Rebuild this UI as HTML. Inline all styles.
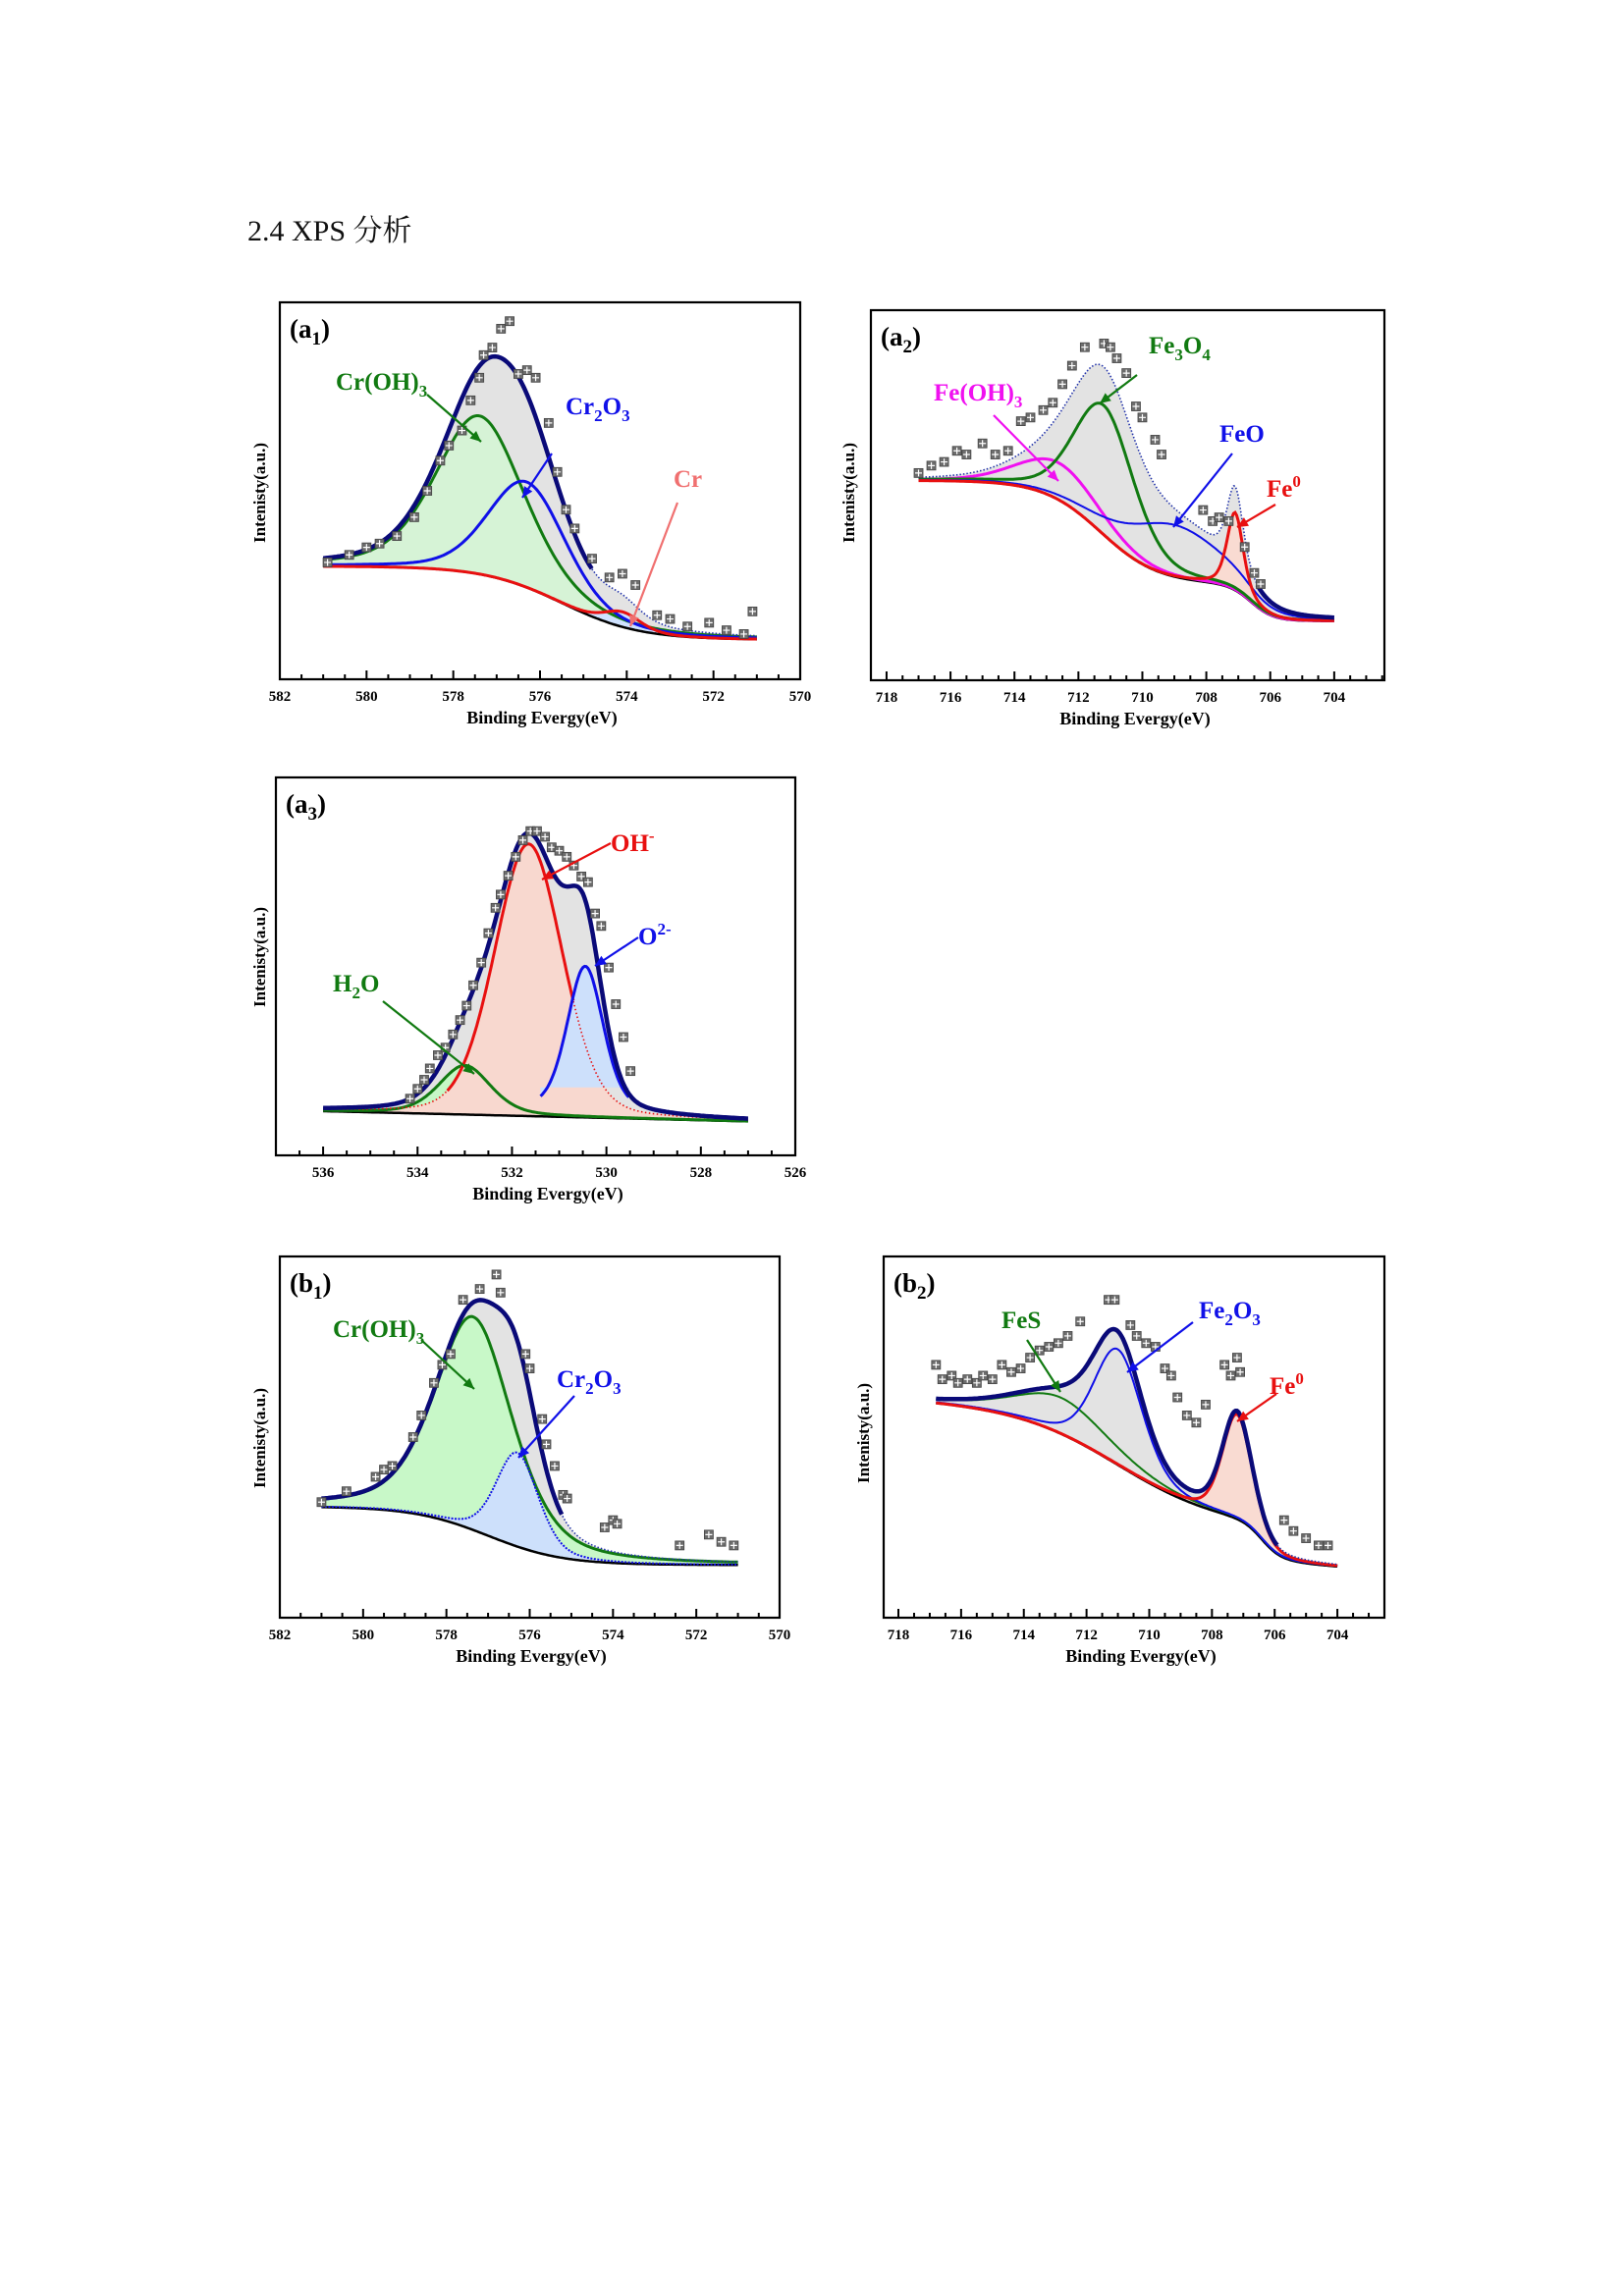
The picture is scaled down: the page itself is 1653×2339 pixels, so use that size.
<!DOCTYPE html>
<html>
<head>
<meta charset="utf-8">
<style>
html,body{margin:0;padding:0;background:#fff;}
svg{display:block;}
text{font-family:"Liberation Serif","Noto Serif CJK SC",serif;}
</style>
</head>
<body>
<svg id="root" width="1653" height="2339" viewBox="0 0 1653 2339" xmlns="http://www.w3.org/2000/svg">
<rect x="0" y="0" width="1653" height="2339" fill="#fff"/>
<text x="252" y="245" font-size="30" fill="#111" style="font-family:'Liberation Serif','Noto Serif CJK SC',serif">2.4 XPS 分析</text>
</svg>
<script>
// ---------- DATA: panel a1 (Cr 2p) ----------
const a1Ticks = [582,580,578,576,574,572,570];
const a1Names = ['Cr(OH)3','Cr2O3','Cr'];
const a1Center = [577.4,576.3,574.1];
const a1Height = [42,28,4];
const a1Fwhm = [2.4,2.1,1.0];
const a1Eta = [0.4,0.3,0.3];
const a1BgLow = 10.5;
const a1BgStepH = [19.5];
const a1BgStepC = [575.5];
const a1BgStepW = [0.9];
const a1BgSlope = 0;
const a1ScatterX = [580.9,580.4,580.0,579.7,579.3,578.9,578.6,578.3,578.1,577.8,577.6,577.4,577.3,577.1,576.9,576.7,576.5,576.3,576.1,575.8,575.6,575.4,575.2,574.8,574.4,574.1,573.8,573.3,573.0,572.6,572.1,571.7,571.3,571.1];
const a1ScatterY = [31,33,35,36,38,43,50,58,62,66,74,80,86,88,93,95,81,82,80,68,55,45,40,32,27,28,25,17,16,14,15,13,12,18];

// ---------- DATA: panel a2 (Fe 2p) ----------
const a2Ticks = [718,716,714,712,710,708,706,704];
const a2Names = ['Fe(OH)3','Fe3O4','FeO','Fe0'];
const a2Center = [712.6,711.2,709.0,707.1];
const a2Height = [10,35,14,21];
const a2Fwhm = [3.0,2.2,3.5,0.6];
const a2Eta = [0.3,0.3,0.3,0.5];
const a2BgLow = 16;
const a2BgStepH = [10,28];
const a2BgStepC = [706.6,711.3];
const a2BgStepW = [0.35,0.9];
const a2BgSlope = 0;
const a2ScatterX = [717.0,716.6,716.2,715.8,715.5,715.0,714.6,714.2,713.8,713.5,713.1,712.8,712.5,712.2,711.8,711.2,711.0,710.8,710.5,710.2,710.0,709.6,709.4,708.1,707.8,707.6,707.3,706.8,706.5,706.3];
const a2ScatterY = [56,58,59,62,61,64,61,62,70,71,73,75,80,85,90,91,90,87,83,74,71,65,61,46,43,44,43,36,29,26];

// ---------- DATA: panel a3 (O 1s) ----------
const a3Ticks = [536,534,532,530,528,526];
const a3Names = ['H2O','OH-','O2-'];
const a3Center = [533.0,531.65,530.45];
const a3Height = [13,72,38];
const a3Fwhm = [1.3,1.7,0.9];
const a3Eta = [0.4,0.2,0.3];
const a3BgLow = 9;
const a3BgStepH = [];
const a3BgStepC = [];
const a3BgStepW = [];
const a3BgSlope = 0.3;
const a3ScatterX = [534.16,534.0,533.86,533.74,533.57,533.41,533.25,533.1,532.96,532.82,532.65,532.5,532.35,532.24,532.08,531.92,531.77,531.61,531.47,531.3,531.16,531.0,530.84,530.69,530.53,530.39,530.24,530.11,529.95,529.8,529.64,529.49];
const a3ScatterY = [15,17.6,20,23,26.5,28.5,32,35.8,39.6,45,51,58.8,65.5,69,74,79,83.4,85.8,85.8,84.3,81.5,80.6,79,76.7,73.8,72.3,64,60.7,49.7,40,31.3,22.3];

// ---------- DATA: panel b1 (Cr 2p) ----------
const b1Ticks = [582,580,578,576,574,572,570];
const b1Names = ['Cr(OH)3','Cr2O3'];
const b1Center = [577.35,576.3];
const b1Height = [59,26];
const b1Fwhm = [2.2,1.2];
const b1Eta = [0.45,0.3];
const b1BgLow = 14.6;
const b1BgStepH = [16.2];
const b1BgStepC = [577.0];
const b1BgStepW = [0.9];
const b1BgSlope = 0;
const b1ScatterX = [581.0,580.4,579.7,579.5,579.3,578.8,578.6,578.3,578.1,577.9,577.6,577.2,576.8,576.7,576.1,576.0,575.7,575.6,575.4,575.2,575.1,574.2,574.0,573.9,572.4,571.7,571.4,571.1];
const b1ScatterY = [32,35,39,41,42,50,56,65,70,73,88,91,95,90,73,69,55,48,42,34,33,25,27,26,20,23,21,20];

// ---------- DATA: panel b2 (Fe 2p) ----------
const b2Ticks = [718,716,714,712,710,708,706,704];
const b2Names = ['FeS','Fe2O3','Fe0'];
const b2Center = [712.8,711.0,707.2];
const b2Height = [10,32,29];
const b2Fwhm = [3.5,1.8,1.1];
const b2Eta = [0.5,0.3,0.3];
const b2BgLow = 13.8;
const b2BgStepH = [10,30];
const b2BgStepC = [706.4,711.0];
const b2BgStepW = [0.3,1.6];
const b2BgSlope = 0.5;
const b2ScatterX = [716.8,716.6,716.3,716.1,715.8,715.5,715.3,715.0,714.7,714.4,714.1,713.8,713.5,713.2,712.9,712.6,712.2,711.3,711.1,710.6,710.4,710.1,709.8,709.5,709.3,709.1,708.8,708.5,708.2,707.6,707.4,707.2,707.1,705.7,705.4,705.0,704.6,704.3];
const b2ScatterY = [70,66,67,65,66,65,67,66,70,68,69,72,74,75,76,78,82,88,88,81,78,76,75,69,67,61,56,54,59,70,67,72,68,27,24,22,20,20];

// ---------- rendering ----------
const NS = 'http://www.w3.org/2000/svg';
const root = document.getElementById('root');
function mk(tag, attrs, parent){
  const e = document.createElementNS(NS, tag);
  for (const k in attrs) e.setAttribute(k, attrs[k]);
  (parent || root).appendChild(e);
  return e;
}
function pv(x,c,f,eta){const d=(x-c)/(f/2);return eta/(1+d*d)+(1-eta)*Math.exp(-Math.LN2*d*d);}

function drawPanel(P){
  const g = mk('g',{});
  
  
  const X = e => P.x0 + (P.left - e) / (P.left - P.right) * (P.x1 - P.x0);
  const Y = p => P.y1 - p / 100 * (P.y1 - P.y0);
  const bg = x => {
    let v = P.bgLow + P.bgSlope * (x - P.xEnd);
    for (let i=0;i<P.stepH.length;i++) v += P.stepH[i]/(1+Math.exp(-(x-P.stepC[i])/P.stepW[i]));
    return v;
  };
  const comp = (i,x) => P.height[i]*pv(x,P.center[i],P.fwhm[i],P.eta[i]);
  const env = x => { let v = bg(x); for (let i=0;i<P.center.length;i++) v += comp(i,x); return v; };
  const N = 260;
  const xs = []; for (let k=0;k<=N;k++) xs.push(P.xStart + (P.xEnd-P.xStart)*k/N);
  const pathOf = (f, a, b) => {
    let s=''; let first=true;
    xs.forEach(x=>{ if (x>Math.max(a,b)+1e-9 || x<Math.min(a,b)-1e-9) return;
      s += (first?'M':'L') + X(x).toFixed(1) + ' ' + Y(f(x)).toFixed(1) + ' '; first=false; });
    return s;
  };
  const areaOf = (fTop, fBot, a, b) => {
    const sel = xs.filter(x=> x<=Math.max(a,b)+1e-9 && x>=Math.min(a,b)-1e-9);
    let s='';
    sel.forEach((x,k)=>{ s += (k?'L':'M') + X(x).toFixed(1)+' '+Y(fTop(x)).toFixed(1)+' '; });
    sel.slice().reverse().forEach(x=>{ s += 'L' + X(x).toFixed(1)+' '+Y(fBot(x)).toFixed(1)+' '; });
    return s + 'Z';
  };
  const ga = mk('path',{d:areaOf(env,bg,P.xStart,P.xEnd),fill:'#e3e3e3',stroke:'none'},g);
  
  
  P.comps.forEach((c,i)=>{
    if (!c.fill) return;
    const off = c.offset||0;
    const a = c.range ? c.range[0] : P.xStart, b = c.range ? c.range[1] : P.xEnd;
    const base = c.fillBase!==undefined ? (x=>c.fillBase) : bg;
    const fa = mk('path',{d:areaOf(x=>bg(x)+off+comp(i,x), base, a, b),fill:c.fill,'fill-opacity':c.fillOp||1,stroke:'none'},g);
    
    
  });
  const bl = mk('path',{d:pathOf(bg,P.xStart,P.xEnd),fill:'none',stroke:'#000','stroke-width':2.5},g);
  
  
  P.comps.forEach((c,i)=>{
    const off = c.offset||0;
    const f = x=>bg(x)+off+comp(i,x);
    const a = c.range ? c.range[0] : P.xStart, b = c.range ? c.range[1] : P.xEnd;
    if (c.solid){
      const d1 = mk('path',{d:pathOf(f,a,b),fill:'none',stroke:c.color,'stroke-width':1.6,'stroke-dasharray':'1.5 2.5'},g);
      
      
      const l = mk('path',{d:pathOf(f,c.solid[0],c.solid[1]),fill:'none',stroke:c.color,'stroke-width':c.w||3},g);
      
      
    } else {
      const l = mk('path',{d:pathOf(f,a,b),fill:'none',stroke:c.color,'stroke-width':c.w||3,'stroke-dasharray':c.dash||'none'},g);
      
      
    }
  });
  const ed = mk('path',{d:pathOf(env,P.xStart,P.xEnd),fill:'none',stroke:'#2233aa','stroke-width':1.6,'stroke-dasharray':'1.5 2'},g);
  
  
  const es = mk('path',{d:pathOf(env,P.envSolid[0],P.envSolid[1]),fill:'none',stroke:'#0a0a78','stroke-width':4.5,'stroke-linejoin':'round'},g);
  
  
  P.sx.forEach((x,k)=>{
    const cx = X(x), cy = Y(P.sy[k]);
    const m = mk('g',{},g);
    
    
    mk('rect',{x:cx-4.5,y:cy-4.5,width:9,height:9,fill:'#6d6d6d',stroke:'#444','stroke-width':0.8},m);
    mk('path',{d:`M${cx-3.5} ${cy}H${cx+3.5}M${cx} ${cy-3.5}V${cy+3.5}`,stroke:'#fff','stroke-width':1.2},m);
  });
  const fr = mk('rect',{x:P.x0,y:P.y0,width:P.x1-P.x0,height:P.y1-P.y0,fill:'none',stroke:'#000','stroke-width':2.2},g);
  
  
  for (let e=Math.ceil(P.right*2)/2; e<=P.left; e+=0.5){
    const major = Math.abs(e-Math.round(e))<1e-6 && Math.round(e)%2===0;
    const t = mk('line',{x1:X(e),x2:X(e),y1:P.y1,y2:P.y1-(major?9:5),stroke:'#000','stroke-width':2},g);
    
    
  }
  P.ticks.forEach(v=>{
    const t = mk('text',{x:X(v),y:P.y1+22,'text-anchor':'middle','font-size':15,'font-weight':'bold',fill:'#000'},g);
    t.textContent = String(v);
    
    
  });
  const xt = mk('text',{x:P.xtx,y:P.y1+45,'text-anchor':'middle','font-size':18,'font-weight':'bold',fill:'#000'},g);
  xt.textContent = 'Binding Evergy(eV)';
  
  
  const yt = mk('text',{x:0,y:0,'text-anchor':'middle','font-size':17,'font-weight':'bold',fill:'#000',transform:`translate(${P.ytx},${P.yty}) rotate(-90)`},g);
  yt.textContent = 'Intenisty(a.u.)';
  
  
  const pt = mk('text',{x:P.x0+10,y:P.y0+36,'font-size':27,'font-weight':'bold',fill:'#000'},g);
  
  
  const t1 = mk('tspan',{},pt); t1.textContent='(' + P.tag[0];
  const t2 = mk('tspan',{dy:7,'font-size':19},pt); t2.textContent=P.tag[1];
  const t3 = mk('tspan',{dy:-7},pt); t3.textContent=')';
  P.notes.forEach(n=>{
    const ag = mk('g',{},g);
    
    
    const [x1,y1,x2,y2] = n.arrow;
    mk('line',{x1,y1,x2,y2,stroke:n.color,'stroke-width':2.2},ag);
    const ang = Math.atan2(y2-y1,x2-x1), L=11, W=5;
    const bx = x2-L*Math.cos(ang), by = y2-L*Math.sin(ang);
    mk('polygon',{points:`${x2},${y2} ${bx+W*Math.sin(ang)},${by-W*Math.cos(ang)} ${bx-W*Math.sin(ang)},${by+W*Math.cos(ang)}`,fill:n.color},ag);
    const tx = mk('text',{x:n.x,y:n.y,'font-size':25,'font-weight':'bold',fill:n.color},ag);
    n.parts.forEach(p=>{
      const s = mk('tspan',{},tx);
      if (p[1]==='sub'){ s.setAttribute('dy',7); s.setAttribute('font-size',17); }
      else if (p[1]==='sup'){ s.setAttribute('dy',-10); s.setAttribute('font-size',17); }
      else if (p[1]==='back'){ s.setAttribute('dy',-7); }
      s.textContent = p[0];
    });
  });
}

drawPanel({id:'a1',tag:['a','1'],x0:285,x1:815,y0:308,y1:692,left:582,right:570,xStart:581,xEnd:571,
  ticks:a1Ticks,center:a1Center,height:a1Height,fwhm:a1Fwhm,eta:a1Eta,
  bgLow:a1BgLow,stepH:a1BgStepH,stepC:a1BgStepC,stepW:a1BgStepW,bgSlope:a1BgSlope,
  sx:a1ScatterX,sy:a1ScatterY,envSolid:[581,574.8],xtx:552,ytx:270,yty:502,
  comps:[{key:'croh3',color:'#117a11',fill:'#d4f4d4',fillOp:0.9},{key:'cr2o3',color:'#1010e8'},{key:'cr',color:'#e81010',fill:'#cfe2ff'}],
  notes:[
    {key:'croh3',color:'#117a11',x:342,y:397,parts:[['Cr(OH)'],['3','sub']],arrow:[435,402,490,450]},
    {key:'cr2o3',color:'#1010e8',x:576,y:422,parts:[['Cr'],['2','sub'],['O','back'],['3','sub']],arrow:[562,462,532,507]},
    {key:'cr',color:'#f07070',x:686,y:496,parts:[['Cr']],arrow:[690,512,642,638]}]
});
drawPanel({id:'a2',tag:['a','2'],x0:887,x1:1410,y0:316,y1:693,left:718.49,right:702.43,xStart:717,xEnd:704,
  ticks:a2Ticks,center:a2Center,height:a2Height,fwhm:a2Fwhm,eta:a2Eta,
  bgLow:a2BgLow,stepH:a2BgStepH,stepC:a2BgStepC,stepW:a2BgStepW,bgSlope:a2BgSlope,
  sx:a2ScatterX,sy:a2ScatterY,envSolid:[706.4,704],xtx:1156,ytx:870,yty:502,
  comps:[{key:'feoh3',color:'#f010f0'},{key:'fe3o4',color:'#117a11'},{key:'feo',color:'#1010e8',w:2},{key:'fe0',color:'#e81010',fill:'#f9dbd2'}],
  notes:[
    {key:'feoh3',color:'#f010f0',x:951,y:408,parts:[['Fe(OH)'],['3','sub']],arrow:[1012,423,1078,490]},
    {key:'fe3o4',color:'#117a11',x:1170,y:360,parts:[['Fe'],['3','sub'],['O','back'],['4','sub']],arrow:[1158,382,1120,411]},
    {key:'feo',color:'#1010e8',x:1242,y:450,parts:[['FeO']],arrow:[1255,462,1195,537]},
    {key:'fe0',color:'#e81010',x:1290,y:506,parts:[['Fe'],['0','sup']],arrow:[1299,514,1260,537]}]
});
drawPanel({id:'a3',tag:['a','3'],x0:281,x1:810,y0:792,y1:1177,left:537,right:526,xStart:536,xEnd:527,
  ticks:a3Ticks,center:a3Center,height:a3Height,fwhm:a3Fwhm,eta:a3Eta,
  bgLow:a3BgLow,stepH:a3BgStepH,stepC:a3BgStepC,stepW:a3BgStepW,bgSlope:a3BgSlope,
  sx:a3ScatterX,sy:a3ScatterY,envSolid:[536,527],xtx:558,ytx:270,yty:975,
  comps:[{key:'h2o',color:'#117a11',fill:'#c6f8c6'},{key:'ohminus',color:'#e81010',fill:'#f8d8cf',solid:[533.4,530.7],range:[536,527]},
         {key:'o2minus',color:'#1010e8',fill:'#cde0fb',range:[531.4,529.5],offset:2,fillBase:18}],
  notes:[
    {key:'ohminus',color:'#e81010',x:622,y:867,parts:[['OH'],['-','sup']],arrow:[622,859,552,896]},
    {key:'o2minus',color:'#1010e8',x:650,y:962,parts:[['O'],['2-','sup']],arrow:[650,955,606,984]},
    {key:'h2o',color:'#117a11',x:339,y:1010,parts:[['H'],['2','sub'],['O','back']],arrow:[390,1020,483,1094]}]
});
drawPanel({id:'b1',tag:['b','1'],x0:285,x1:794,y0:1280,y1:1648,left:582,right:570,xStart:581,xEnd:571,
  ticks:b1Ticks,center:b1Center,height:b1Height,fwhm:b1Fwhm,eta:b1Eta,
  bgLow:b1BgLow,stepH:b1BgStepH,stepC:b1BgStepC,stepW:b1BgStepW,bgSlope:b1BgSlope,
  sx:b1ScatterX,sy:b1ScatterY,envSolid:[581,575.2],xtx:541,ytx:270,yty:1465,
  comps:[{key:'croh3',color:'#117a11',fill:'#c8f8c8'},{key:'cr2o3',color:'#1010e8',fill:'#cde0fb',dash:'2 1.5',w:2}],
  notes:[
    {key:'croh3',color:'#117a11',x:339,y:1362,parts:[['Cr(OH)'],['3','sub']],arrow:[429,1365,483,1415]},
    {key:'cr2o3',color:'#1010e8',x:567,y:1413,parts:[['Cr'],['2','sub'],['O','back'],['3','sub']],arrow:[585,1422,528,1485]}]
});
drawPanel({id:'b2',tag:['b','2'],x0:900,x1:1410,y0:1280,y1:1648,left:718.47,right:702.5,xStart:716.8,xEnd:704,
  ticks:b2Ticks,center:b2Center,height:b2Height,fwhm:b2Fwhm,eta:b2Eta,
  bgLow:b2BgLow,stepH:b2BgStepH,stepC:b2BgStepC,stepW:b2BgStepW,bgSlope:b2BgSlope,
  sx:b2ScatterX,sy:b2ScatterY,envSolid:[716.8,705.9],xtx:1162,ytx:885,yty:1460,
  comps:[{key:'fes',color:'#117a11',w:2},{key:'fe2o3',color:'#1010e8',w:2},{key:'fe0',color:'#e81010',fill:'#f9dbd2'}],
  notes:[
    {key:'fes',color:'#117a11',x:1020,y:1353,parts:[['FeS']],arrow:[1046,1365,1080,1418]},
    {key:'fe2o3',color:'#1010e8',x:1221,y:1343,parts:[['Fe'],['2','sub'],['O','back'],['3','sub']],arrow:[1215,1347,1148,1398]},
    {key:'fe0',color:'#e81010',x:1293,y:1420,parts:[['Fe'],['0','sup']],arrow:[1300,1420,1260,1448]}]
});
</script>
</body>
</html>
